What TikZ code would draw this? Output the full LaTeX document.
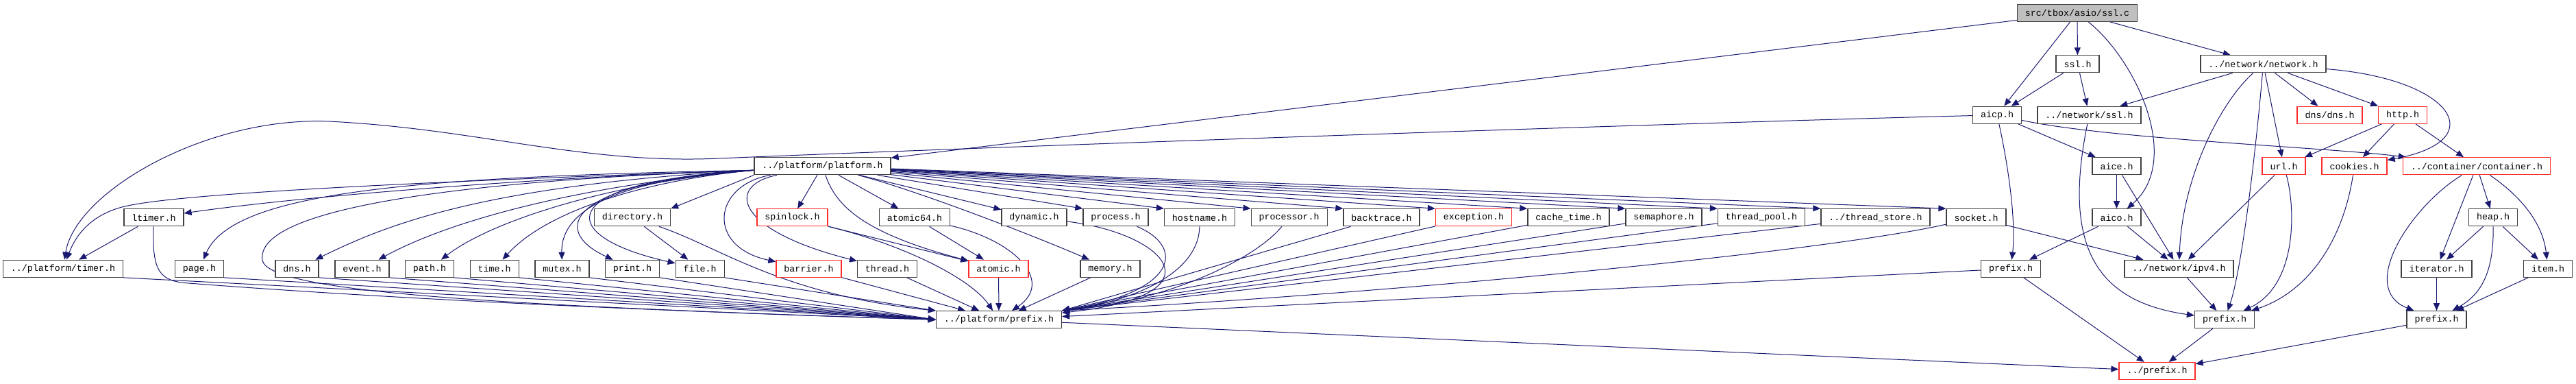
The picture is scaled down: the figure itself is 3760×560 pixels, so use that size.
\documentclass[tikz,border=0pt]{standalone}
\usepackage{fontspec}
\setmonofont{Liberation Mono}
\usetikzlibrary{arrows.meta}
\definecolor{edgecol}{HTML}{191970}
\definecolor{boxcol}{HTML}{404040}
\definecolor{redcol}{HTML}{FF2A2A}
\definecolor{rootfill}{HTML}{BFBFBF}
\newcommand\nodefont{\ttfamily\fontsize{6.67pt}{8pt}\selectfont}
\pgfdeclarelayer{edges}
\pgfdeclarelayer{backdrop}
\pgfsetlayers{backdrop,edges,main}
\tikzset{
  box/.style={draw=boxcol, fill=white, line width=0.6pt, minimum height=12.5pt,
    inner xsep=5.75pt, inner ysep=0pt, font=\nodefont},
  redbox/.style={box, draw=redcol},
  rootbox/.style={box, fill=rootfill},
  edge/.style={draw=edgecol, line width=0.5pt, -{Triangle[length=5.5pt,width=4.5pt]}},
}
\begin{document}
\begin{tikzpicture}[x=0.5pt,y=-0.5pt]
\begin{pgfonlayer}{backdrop}
\fill[white] (0,0) rectangle (3760,560);
\end{pgfonlayer}
\useasboundingbox (0,0) rectangle (3760,560);
% row 0-3
\node[rootbox] (sslc) at (3032,18.8) {src/tbox/asio/ssl.c};
\node[box] (sslh) at (3032.5,93.4) {ssl.h};
\node[box] (netnet) at (3303.5,93.4) {../network/network.h};
\node[box] (aicp) at (2915,167.7) {aicp.h};
\node[box] (netssl) at (3049.5,167.7) {../network/ssl.h};
\node[redbox] (dnsdns) at (3400.5,167.7) {dns/dns.h};
\node[redbox] (http) at (3507,167.7) {http.h};
\node[box] (platform) at (1200.5,242.3) {../platform/platform.h};
\node[box] (aice) at (3089.5,242.3) {aice.h};
\node[redbox] (url) at (3333.5,242.3) {url.h};
\node[redbox] (cookies) at (3436.5,242.3) {cookies.h};
\node[redbox] (container) at (3615,242.3) {../container/container.h};
% row 4
\node[box] (ltimer) at (224.5,317.3) {ltimer.h};
\node[box] (directory) at (923,317.3) {directory.h};
\node[redbox] (spinlock) at (1156.5,317.3) {spinlock.h};
\node[box] (atomicsf) at (1335,317.3) {atomic64.h};
\node[box] (dynamic) at (1509.5,317.3) {dynamic.h};
\node[box] (process) at (1628.5,317.3) {process.h};
\node[box] (hostname) at (1751,317.3) {hostname.h};
\node[box] (processor) at (1881.7,317.3) {processor.h};
\node[box] (backtrace) at (2016.5,317.3) {backtrace.h};
\node[redbox] (exception) at (2151,317.3) {exception.h};
\node[box] (cachetime) at (2289.5,317.3) {cache\_time.h};
\node[box] (semaphore) at (2428.5,317.3) {semaphore.h};
\node[box] (threadpool) at (2571,317.3) {thread\_pool.h};
\node[box] (threadstore) at (2737.5,317.3) {../thread\_store.h};
\node[box] (socket) at (2884.5,317.3) {socket.h};
\node[box] (aico) at (3089.5,317.3) {aico.h};
\node[box] (heap) at (3639,317.3) {heap.h};
% row 5
\node[box] (timer) at (92,391.8) {../platform/timer.h};
\node[box] (page) at (291,391.8) {page.h};
\node[box] (dns) at (433.5,391.8) {dns.h};
\node[box] (event) at (528.5,391.8) {event.h};
\node[box] (path) at (627,391.8) {path.h};
\node[box] (time) at (721.7,391.8) {time.h};
\node[box] (mutex) at (820.5,391.8) {mutex.h};
\node[box] (print) at (923,391.8) {print.h};
\node[box] (file) at (1021.7,391.8) {file.h};
\node[redbox] (barrier) at (1180.5,391.8) {barrier.h};
\node[box] (thread) at (1295,391.8) {thread.h};
\node[redbox] (atomic) at (1457.5,391.8) {atomic.h};
\node[box] (memory) at (1620.5,391.8) {memory.h};
\node[box] (prefixa) at (2935,391.8) {prefix.h};
\node[box] (ipv4) at (3180.5,391.8) {../network/ipv4.h};
\node[box] (iterator) at (3556.5,391.8) {iterator.h};
\node[box] (item) at (3719,391.8) {item.h};
% row 6-7
\node[box] (pp) at (1458,466.2) {../platform/prefix.h};
\node[box] (prefixn) at (3247,466.2) {prefix.h};
\node[box] (prefixc) at (3556.5,466.2) {prefix.h};
\node[redbox] (rootprefix) at (3148.5,541) {../prefix.h};

\begin{pgfonlayer}{edges}
% ---- edges from ssl.c and upper part
\draw[edge] (sslc) -- (platform);
\draw[edge] (sslc) -- (sslh);
\draw[edge] (sslc) -- (aicp);
\draw[edge] (sslc) .. controls (3120,90) and (3185,235) .. (aico);
\draw[edge] (sslc) -- (netnet);
\draw[edge] (sslh) -- (aicp);
\draw[edge] (sslh) -- (netssl);
\draw[edge] (netnet) -- (netssl);
\draw[edge] (aicp) .. controls (2500,178) and (1500,212) .. (1050,231)
  .. controls (850,240) and (700,188) .. (480,177)
  .. controls (300,170) and (110,280) .. (timer);
\draw[edge] (aicp) .. controls (2935,260) and (2942,330) .. (prefixa);
\draw[edge] (aicp) -- (aice);
\draw[edge] (aicp) .. controls (3080,203) and (3400,215) .. (container);
\draw[edge] (netnet) .. controls (3240,150) and (3185,260) .. (ipv4);
\draw[edge] (netnet) .. controls (3290,250) and (3270,400) .. (prefixn);
\draw[edge] (netnet) -- (url);
\draw[edge] (netnet) -- (dnsdns);
\draw[edge] (netnet) -- (http);
\draw[edge] (netnet) .. controls (3580,115) and (3640,205) .. (cookies);
\draw[edge] (http) -- (url);
\draw[edge] (http) -- (cookies);
\draw[edge] (http) -- (container);
\draw[edge] (url) -- (ipv4);
\draw[edge] (url) .. controls (3350,300) and (3355,415) .. (prefixn);
\draw[edge] (cookies) .. controls (3420,350) and (3370,425) .. (prefixn);
\draw[edge] (container) .. controls (3520,300) and (3440,420) .. (prefixc);
\draw[edge] (container) -- (iterator);
\draw[edge] (container) -- (heap);
\draw[edge] (container) .. controls (3685,290) and (3712,330) .. (item);
\draw[edge] (heap) -- (iterator);
\draw[edge] (heap) .. controls (3640,400) and (3620,430) .. (prefixc);
\draw[edge] (heap) -- (item);
\draw[edge] (iterator) -- (prefixc);
\draw[edge] (item) -- (prefixc);
\draw[edge] (prefixc) -- (rootprefix);
\draw[edge] (prefixn) -- (rootprefix);
\draw[edge] (ipv4) -- (prefixn);
\draw[edge] (netssl) .. controls (3010,360) and (3060,440) .. (prefixn);
\draw[edge] (aice) -- (aico);
\draw[edge] (aice) -- (ipv4);
\draw[edge] (aico) -- (prefixa);
\draw[edge] (aico) -- (ipv4);
\draw[edge] (socket) -- (ipv4);
\draw[edge] (socket) .. controls (2650,370) and (2000,430) .. (pp.north east);
\draw[edge] (prefixa) -- (pp);
\draw[edge] (prefixa) -- (rootprefix);
\draw[edge] (pp) -- (rootprefix);

% ---- platform.h fan, left
\draw[edge] ([yshift=-3pt]platform.west) .. controls (700,262) and (260,280) .. (178,302)
  .. controls (130,315) and (110,345) .. (timer);
\draw[edge] ([yshift=-3pt]platform.west) .. controls (800,258) and (450,285) .. (ltimer);
\draw[edge] ([yshift=-3pt]platform.west) .. controls (600,258) and (340,280) .. (page);
\draw[edge] ([yshift=-3pt]platform.west) .. controls (700,270) and (560,330) .. (dns);
\draw[edge] ([yshift=-3pt]platform.west) .. controls (850,270) and (660,320) .. (event);
\draw[edge] ([yshift=-3pt]platform.west) .. controls (900,265) and (720,320) .. (path);
\draw[edge] ([yshift=-3pt]platform.west) .. controls (950,262) and (800,305) .. (time);
\draw[edge] ([yshift=-3pt]platform.west) .. controls (950,258) and (818,290) .. (mutex);
\draw[edge] ([yshift=-3pt]platform.west) .. controls (830,265) and (800,335) .. (print);
\draw[edge] ([yshift=-3pt]platform.west) .. controls (800,265) and (810,345) .. (file);
\draw[edge] (platform.south west) -- (directory.north east);
\draw[edge] (platform) .. controls (1040,270) and (1030,360) .. (barrier);
\draw[edge] (platform) .. controls (1060,270) and (1070,335) .. (thread);
\draw[edge] (platform) -- (spinlock);
\draw[edge] (platform) .. controls (1220,300) and (1260,340) .. (atomic);
\draw[edge] (platform) -- (atomicsf);
\draw[edge] ([yshift=-3pt]platform.west) .. controls (700,262) and (370,300) .. (383,380)
  .. controls (395,425) and (700,445) .. (pp.west);
% ---- platform.h fan, right
\draw[edge] (platform) -- (dynamic);
\draw[edge] (platform) .. controls (1330,275) and (1500,340) .. (memory);
\draw[edge] (platform) -- (process.north west);
\draw[edge] (platform) -- (hostname.north west);
\draw[edge] (platform) -- (processor.north west);
\draw[edge] (platform) -- (backtrace.north west);
\draw[edge] (platform) -- (exception.north west);
\draw[edge] (platform) -- (cachetime.north west);
\draw[edge] (platform) -- (semaphore.north west);
\draw[edge] (platform) -- (threadpool.north west);
\draw[edge] (platform) -- (threadstore.north west);
\draw[edge] (platform) -- (socket.north west);

% ---- into ../platform/prefix.h
\draw[edge] (ltimer) .. controls (222,395) and (232,410) .. (275,413)
  .. controls (600,438) and (1000,455) .. (pp.west);
\draw[edge] (ltimer) -- (timer);
\draw[edge] (timer.south east) -- (pp.west);
\draw[edge] (page.south east) -- (pp.west);
\draw[edge] (dns.south east) -- (pp.west);
\draw[edge] (event.south east) -- (pp.west);
\draw[edge] (path.south east) -- (pp.west);
\draw[edge] (time.south east) -- (pp.west);
\draw[edge] (mutex.south east) -- (pp.west);
\draw[edge] (print.south east) -- (pp.west);
\draw[edge] (file.south east) -- (pp.north west);
\draw[edge] (directory) -- (file);
\draw[edge] (directory) .. controls (1050,360) and (1140,430) .. (pp.north west);
\draw[edge] (barrier) -- (pp);
\draw[edge] (thread) -- (pp);
\draw[edge] (spinlock) -- (atomic);
\draw[edge] (spinlock) .. controls (1330,360) and (1420,410) .. (pp);
\draw[edge] (atomicsf) -- (atomic);
\draw[edge] (atomicsf) .. controls (1480,350) and (1540,410) .. (pp);
\draw[edge] (atomic) -- (pp);
\draw[edge] (memory) -- (pp);
\draw[edge] (dynamic) .. controls (1700,340) and (1790,430) .. (pp);
\draw[edge] (process) .. controls (1730,360) and (1720,425) .. (pp.north east);
\draw[edge] (hostname) .. controls (1750,400) and (1650,440) .. (pp.north east);
\draw[edge] (processor) .. controls (1830,380) and (1700,440) .. (pp.north east);
\draw[edge] (backtrace) -- (pp.north east);
\draw[edge] (exception) -- (pp.north east);
\draw[edge] (cachetime) -- (pp.north east);
\draw[edge] (semaphore) -- (pp.north east);
\draw[edge] (threadpool) -- (pp.north east);
\draw[edge] (threadstore) -- (pp.north east);
\end{pgfonlayer}
\end{tikzpicture}
\end{document}
